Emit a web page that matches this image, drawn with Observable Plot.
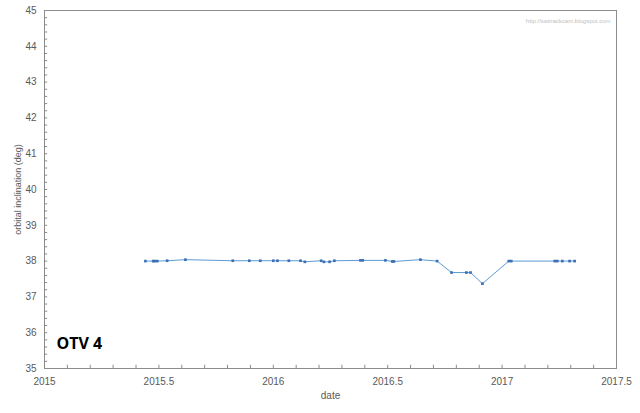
<!DOCTYPE html>
<html>
<head>
<meta charset="utf-8">
<script src="https://cdn.jsdelivr.net/npm/d3@7"></script>
<script src="https://cdn.jsdelivr.net/npm/@observablehq/plot@0.6"></script>
<style>
  html, body { margin: 0; padding: 0; background: #fff; }
  #chart { width: 640px; height: 413px; }
</style>
</head>
<body>
<div id="chart"></div>
<script>
// epoch (decimal year)
const dates = [
  2015.441, 2015.475, 2015.482, 2015.493, 2015.536, 2015.616, 2015.823, 2015.895,
  2015.943, 2016.000, 2016.018, 2016.068, 2016.119, 2016.138, 2016.209, 2016.221,
  2016.246, 2016.267, 2016.381, 2016.391, 2016.490, 2016.520, 2016.527, 2016.643,
  2016.716, 2016.779, 2016.844, 2016.862, 2016.914, 2017.029, 2017.040, 2017.230,
  2017.241, 2017.263, 2017.295, 2017.317
];
// orbital inclination (deg)
const inclination = [
  38.00, 38.00, 38.00, 38.00, 38.01, 38.04, 38.01, 38.01,
  38.01, 38.01, 38.01, 38.01, 38.01, 37.98, 38.01, 37.98,
  37.98, 38.01, 38.02, 38.02, 38.02, 37.99, 37.99, 38.04,
  38.00, 37.68, 37.68, 37.68, 37.37, 38.00, 38.00, 38.00,
  38.00, 38.00, 38.00, 38.00
];
const xTickLabels = [2015, 2015.5, 2016, 2016.5, 2017, 2017.5];
const yTickLabels = [35, 36, 37, 38, 39, 40, 41, 42, 43, 44, 45];
const xMinorTicks = d3.range(0, 26).map(i => 2015 + i / 10);
const yMinorTicks = d3.range(0, 51).map(i => 35 + i / 5);

const data = dates.map((d, i) => ({date: d, incl: inclination[i]}));

const gray = "#595959";
const chart = Plot.plot({
  width: 640,
  height: 413,
  marginLeft: 44,
  marginRight: 24,
  marginTop: 10,
  marginBottom: 45,
  style: {fontFamily: "'Liberation Sans', Arial, sans-serif", fontSize: "10px", color: gray, background: "#fff"},
  x: {domain: [2015, 2017.5]},
  y: {domain: [35, 45]},
  marks: [
    Plot.frame({stroke: "#8c8c8c", strokeWidth: 1}),
    Plot.ruleX(xMinorTicks, {x: d => d, y1: 35, y2: 35.09, stroke: "#8c8c8c"}),
    Plot.ruleY(yMinorTicks, {y: d => d, x1: 2015, x2: 2015.014, stroke: "#8c8c8c"}),
    Plot.axisX({ticks: xTickLabels, tickSize: 0, tickPadding: 9, tickFormat: d => String(d), label: null, fill: gray}),
    Plot.axisY({ticks: yTickLabels, tickSize: 0, tickPadding: 8, tickFormat: d => String(d), label: null, fill: gray}),
    Plot.line(data, {x: "date", y: "incl", stroke: "#5b9bd5", strokeWidth: 1}),
    Plot.dot(data, {x: "date", y: "incl", symbol: "square", r: 1.5, fill: "#3a6fb5", stroke: "none"}),
    Plot.text(["date"], {text: d => d, frameAnchor: "bottom", dy: 30, fill: gray, fontSize: 10}),
    Plot.text(["orbital inclination (deg)"], {text: d => d, frameAnchor: "left", textAnchor: "middle", dx: -26, rotate: -90, fill: gray, fontSize: 9}),
    Plot.text(["http://sattrackcam.blogspot.com"], {text: d => d, frameAnchor: "top-right", dx: -6, dy: 8, fill: "#c0c0c0", fontSize: 6, textAnchor: "end"}),
    Plot.text(["OTV 4"], {text: d => d, frameAnchor: "bottom-left", dx: 12, dy: -20, fill: "#000", fontSize: 16, fontWeight: "bold", textAnchor: "start", fontFamily: "'Open Sans', sans-serif"})
  ]
});
document.getElementById("chart").appendChild(chart);
</script>
</body>
</html>
